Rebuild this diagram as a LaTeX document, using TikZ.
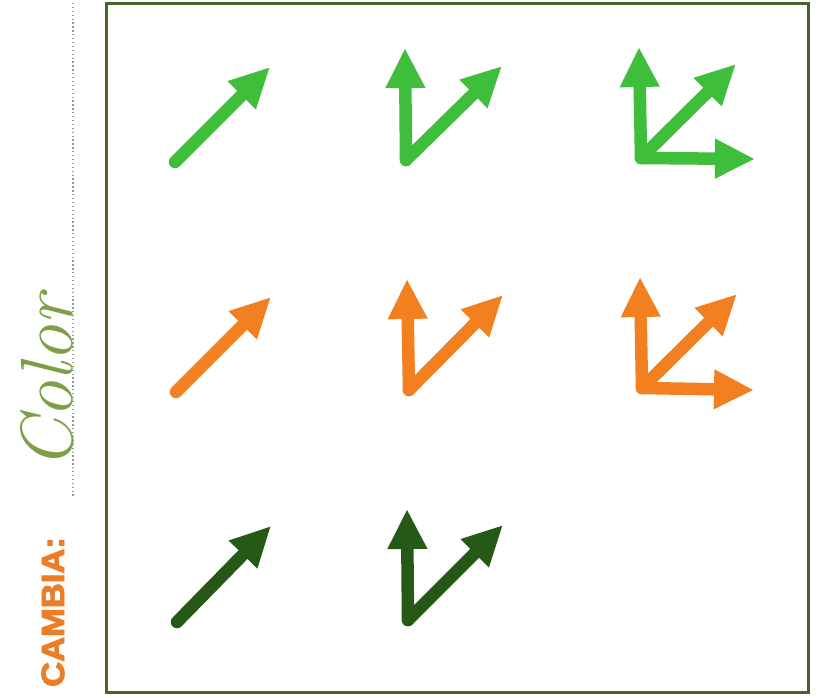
\documentclass[tikz,border=0pt]{standalone}
\usepackage{fontspec}
\usetikzlibrary{arrows.meta}
\newfontfamily\cambiafont[FakeBold=3]{Liberation Sans Bold}
\definecolor{vgreen}{RGB}{62,190,58}
\definecolor{vorange}{RGB}{242,128,32}
\definecolor{vdark}{RGB}{38,88,22}
\definecolor{framecol}{RGB}{72,100,40}
\definecolor{colorword}{RGB}{125,160,70}
\definecolor{cambiacol}{RGB}{236,125,40}
\begin{document}
\begin{tikzpicture}[x=1pt,y=-1pt,
  vec/.style={line width=12.5pt, line cap=round, line join=round,
    -{Triangle[length=40pt,width=37pt]}},
  frame/.style={line width=3pt, draw=framecol},
  guide/.style={draw=gray!80, line width=1.3pt, dash pattern=on 1.3pt off 2.6pt},
]
\fill[white] (0,0) rectangle (819,698);
\useasboundingbox (0,0) rectangle (819,698);

% frame
\draw[frame] (106,4) rectangle (808,692);

% guide line and labels
\draw[guide] (73,3) -- (73,497);
\node[rotate=90, anchor=base west, inner sep=0, text=cambiacol,
      font=\cambiafont\fontsize{32}{32}\selectfont, xscale=1.08]
  (cambia) at (64,687) {CAMBIA:};
\node[rotate=90, anchor=base west, inner sep=0, text=colorword,
      font=\itshape\fontsize{74}{74}\selectfont]
  (colorw) at (72,470) {Color};

% row 1 (light green)
\coordinate (a1s) at (175,162); \coordinate (a1e) at (270,67);
\draw[vec, vgreen] (a1s) -- (a1e);
\coordinate (b1v) at (406,160); \coordinate (b1u) at (405,48); \coordinate (b1d) at (502,66);
\draw[vec, vgreen] (b1v) -- (b1u);
\draw[vec, vgreen] (b1v) -- (b1d);
\coordinate (c1v) at (641,158); \coordinate (c1u) at (639,47);
\coordinate (c1d) at (736,64); \coordinate (c1r) at (755,159);
\draw[vec, vgreen] (c1v) -- (c1u);
\draw[vec, vgreen] (c1v) -- (c1d);
\draw[vec, vgreen] (c1v) -- (c1r);

% row 2 (orange)
\coordinate (a2s) at (176,392); \coordinate (a2e) at (271,297);
\draw[vec, vorange] (a2s) -- (a2e);
\coordinate (b2v) at (409,390); \coordinate (b2u) at (407,279); \coordinate (b2d) at (503,295);
\draw[vec, vorange] (b2v) -- (b2u);
\draw[vec, vorange] (b2v) -- (b2d);
\coordinate (c2v) at (642,388); \coordinate (c2u) at (640,277);
\coordinate (c2d) at (737,294); \coordinate (c2r) at (754,390);
\draw[vec, vorange] (c2v) -- (c2u);
\draw[vec, vorange] (c2v) -- (c2d);
\draw[vec, vorange] (c2v) -- (c2r);

% row 3 (dark green)
\coordinate (a3s) at (177,622); \coordinate (a3e) at (271,526);
\draw[vec, vdark] (a3s) -- (a3e);
\coordinate (b3v) at (408,620); \coordinate (b3u) at (407,509); \coordinate (b3d) at (503,525);
\draw[vec, vdark] (b3v) -- (b3u);
\draw[vec, vdark] (b3v) -- (b3d);
\end{tikzpicture}
\end{document}
